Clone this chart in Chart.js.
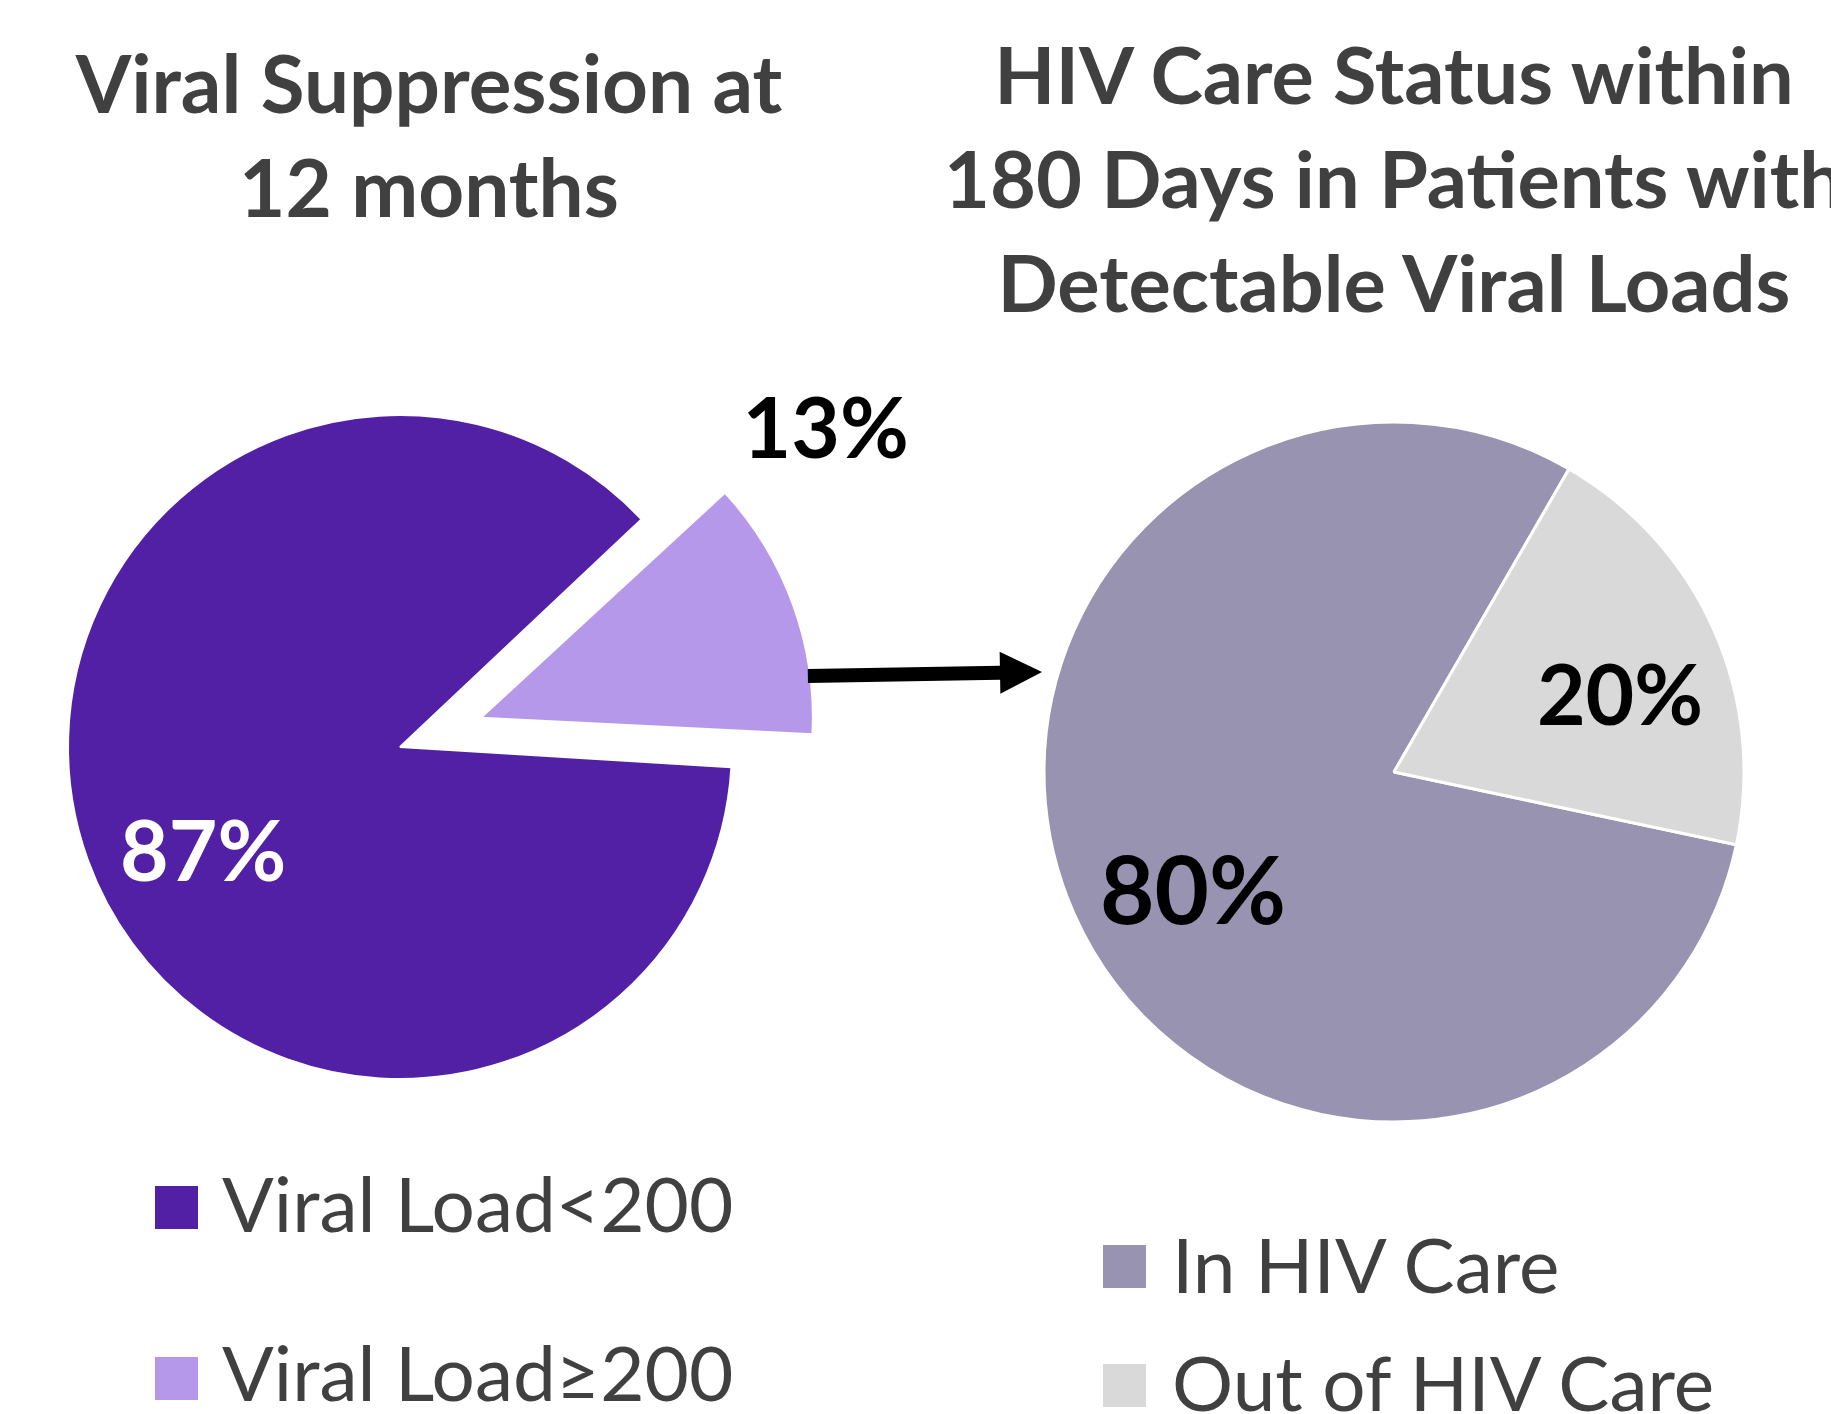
<!DOCTYPE html>
<html>
<head>
<meta charset="utf-8">
<script src="https://cdn.jsdelivr.net/npm/chart.js@4.4.1/dist/chart.umd.min.js"></script>
<style>
  html, body { margin:0; padding:0; background:#ffffff; }
  #stage { position:relative; width:1831px; height:1414px; overflow:hidden; background:#ffffff;
           font-family: Lato, "Open Sans", sans-serif; color:#404040; }
  #stage canvas { position:absolute; left:0; top:0; }
  .title { position:absolute; font-weight:700; font-size:80px; line-height:104px; text-align:center;
           white-space:nowrap; width:1200px; }
  .lg-text { position:absolute; white-space:nowrap; font-size:76.5px; line-height:76px; font-weight:400; }
  .lg-box { position:absolute; width:43px; height:43px; }
</style>
</head>
<body>
<div id="stage">
  <canvas id="leftChart" width="1831" height="1414"></canvas>
  <canvas id="rightChart" width="1831" height="1414"></canvas>
  <div id="leftTitle" class="title" style="left:-171px; top:30px;"></div>
  <div id="rightTitle" class="title" style="left:794px; top:22px; font-size:79.3px;"></div>
  <div id="leftLegend"></div>
  <div id="rightLegend"></div>
</div>
<script>
// ---------------- data ----------------
const leftTitleLines = ['Viral Suppression at', '12 months'];
const leftCategories = ['Viral Load<200', 'Viral Load\u2265200'];
const leftValues = [87, 13];
const leftColors = ['#5120A5', '#B698EA'];

const rightTitleLines = ['HIV Care Status within', '180 Days in Patients with', 'Detectable Viral Loads'];
const rightCategories = ['In HIV Care', 'Out of HIV Care'];
const rightValues = [80, 20];
const rightColors = ['#9993B2', '#D9D9D9'];

// ---------------- titles & legends (HTML text) ----------------
document.getElementById('leftTitle').innerHTML = leftTitleLines.join('<br>');
document.getElementById('rightTitle').innerHTML = rightTitleLines.join('<br>');

function buildLegend(id, labels, colors, boxLeft, textLeft, boxTops, baselines) {
  const host = document.getElementById(id);
  labels.forEach((lab, i) => {
    const b = document.createElement('div');
    b.className = 'lg-box';
    b.style.left = boxLeft + 'px';
    b.style.top = boxTops[i] + 'px';
    b.style.background = colors[i];
    host.appendChild(b);
    const t = document.createElement('div');
    t.className = 'lg-text';
    t.textContent = lab;
    t.style.left = textLeft + 'px';
    t.style.top = (baselines[i] - 67.6) + 'px';
    host.appendChild(t);
  });
}
buildLegend('leftLegend', leftCategories, leftColors, 155, 222, [1186, 1357], [1232, 1401]);
buildLegend('rightLegend', rightCategories, rightColors, 1103, 1172, [1245, 1364], [1293, 1411]);

// ---------------- plugins ----------------
// keep an exploded slice at the same radius as the rest of the pie
const keepRadius = {
  id: 'keepRadius',
  afterDatasetUpdate(chart, args) {
    const meta = args.meta;
    meta.data.forEach(arc => {
      const off = (arc.options.offset || 0) / 4;
      if (!off) return;
      const circ = arc.endAngle - arc.startAngle;
      const fix = 1 - Math.sin(Math.min(Math.PI, circ));
      arc.outerRadius -= off * fix;
    });
  }
};

const pctLabels = {
  id: 'pctLabels',
  afterDatasetsDraw(chart, args, opts) {
    const ctx = chart.ctx;
    const meta = chart.getDatasetMeta(0);
    const R = meta.controller.outerRadius;
    const values = chart.data.datasets[0].data;
    ctx.save();
    ctx.textAlign = 'center';
    ctx.textBaseline = 'alphabetic';
    meta.data.forEach((arc, i) => {
      const place = opts.place[i];
      const off = (arc.options.offset || 0) / 4;
      const mid = (arc.startAngle + arc.endAngle) / 2;
      const cx = arc.x + Math.cos(mid) * off;
      const cy = arc.y + Math.sin(mid) * off;
      const a = mid + place[1] * Math.PI / 180;
      const lx = cx + Math.cos(a) * R * place[0];
      const ly = cy + Math.sin(a) * R * place[0];
      const txt = values[i] + '%';
      ctx.font = 'bold ' + opts.sizes[i] + 'px Lato, "Open Sans", sans-serif';
      const m = ctx.measureText(txt);
      ctx.fillStyle = opts.colors[i];
      ctx.fillText(txt, lx, ly + m.actualBoundingBoxAscent / 2);
    });
    ctx.restore();
  }
};

let leftChart = null;
const arrowPlugin = {
  id: 'arrowPlugin',
  afterDraw(chart, args, opts) {
    if (!leftChart) return;
    const lm = leftChart.getDatasetMeta(0);
    const lArc = lm.data[1];
    const lOff = (lArc.options.offset || 0) / 4;
    const lMid = (lArc.startAngle + lArc.endAngle) / 2;
    const x0 = lArc.x + Math.cos(lMid) * lOff + lm.controller.outerRadius - opts.gapStart;
    const rm = chart.getDatasetMeta(0);
    const x1 = rm.data[0].x - rm.controller.outerRadius - opts.gapEnd;
    const y0 = lm.data[0].y + opts.dyStart;
    const y1 = rm.data[0].y + opts.dyEnd;
    const ctx = chart.ctx;
    const dx = x1 - x0, dy = y1 - y0, len = Math.hypot(dx, dy);
    const ux = dx / len, uy = dy / len, nx = -uy, ny = ux;
    const hw = opts.shaft / 2, hl = opts.headLen, hh = opts.headHalf;
    const bx = x1 - ux * hl, by = y1 - uy * hl;
    ctx.save();
    ctx.fillStyle = '#000000';
    ctx.beginPath();
    ctx.moveTo(x0 + nx * hw, y0 + ny * hw);
    ctx.lineTo(bx + nx * hw, by + ny * hw);
    ctx.lineTo(bx + nx * hh, by + ny * hh);
    ctx.lineTo(x1, y1);
    ctx.lineTo(bx - nx * hh, by - ny * hh);
    ctx.lineTo(bx - nx * hw, by - ny * hw);
    ctx.lineTo(x0 - nx * hw, y0 - ny * hw);
    ctx.closePath();
    ctx.fill();
    ctx.restore();
  }
};

leftChart = new Chart(document.getElementById('leftChart'), {
  type: 'pie',
  data: {
    labels: leftCategories,
    datasets: [{
      data: leftValues,
      backgroundColor: leftColors,
      borderColor: '#ffffff',
      borderWidth: 2,
      offset: [0, 344]
    }]
  },
  options: {
    responsive: false,
    animation: false,
    events: [],
    rotation: 93.5,
    radius: 332,
    layout: { padding: { left: 0, right: 1031, top: 80, bottom: 0 } },
    plugins: {
      legend: { display: false },
      tooltip: { enabled: false },
      pctLabels: { sizes: [84, 84], colors: ['#ffffff', '#000000'], place: [[0.669, -7.7], [1.358, -20.2]] }
    }
  },
  plugins: [keepRadius, pctLabels]
});

new Chart(document.getElementById('rightChart'), {
  type: 'pie',
  data: {
    labels: rightCategories,
    datasets: [{
      data: rightValues,
      backgroundColor: rightColors,
      borderColor: '#ffffff',
      borderWidth: 3
    }]
  },
  options: {
    responsive: false,
    animation: false,
    events: [],
    rotation: 102,
    radius: 350,
    layout: { padding: { left: 957, right: 0, top: 130, bottom: 0 } },
    plugins: {
      legend: { display: false },
      tooltip: { enabled: false },
      pctLabels: { sizes: [94, 84], colors: ['#000000', '#000000'], place: [[0.665, -6.3], [0.683, 5]] },
      arrowPlugin: { gapStart: 5, gapEnd: 2, dyStart: -71, dyEnd: -100, shaft: 14, headLen: 42, headHalf: 21 }
    }
  },
  plugins: [pctLabels, arrowPlugin]
});
</script>
</body>
</html>
